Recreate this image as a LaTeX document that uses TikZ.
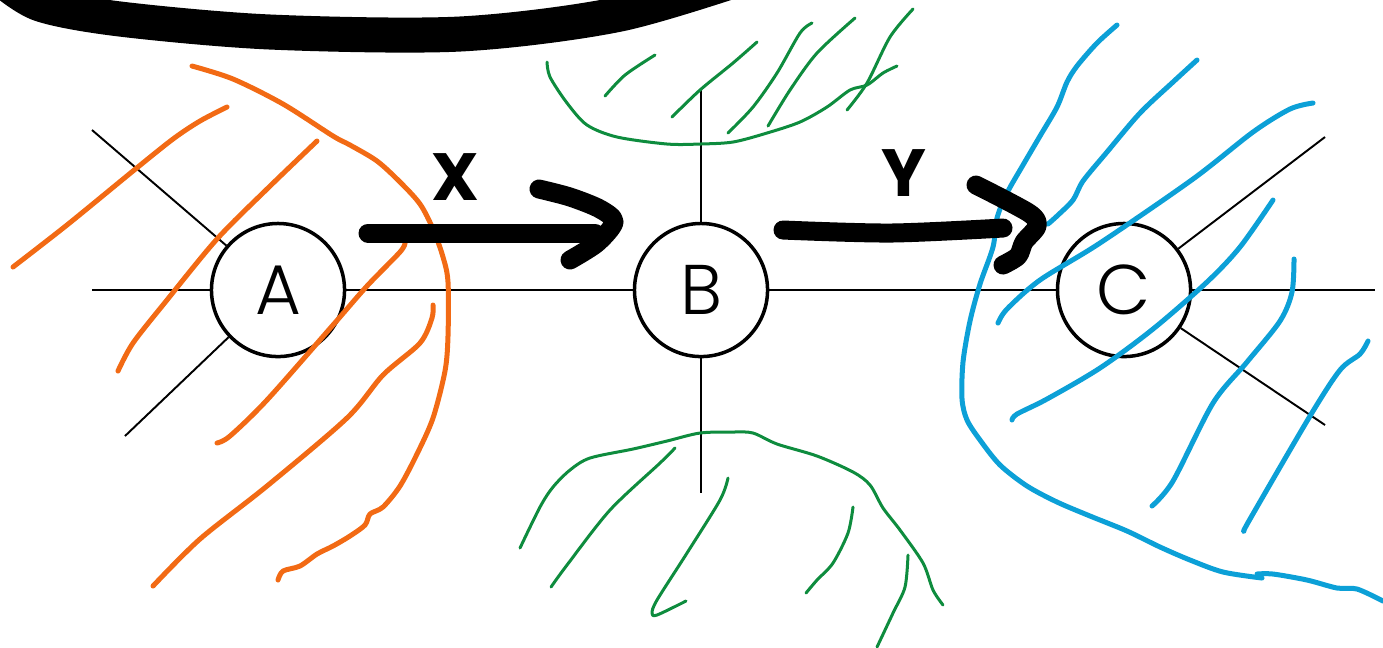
\documentclass[tikz,border=0pt]{standalone}
\usepackage{fontspec}
\setmainfont{Poppins}
\newfontfamily\statefont{Poppins Light}
\usepackage{tikz}
\usetikzlibrary{positioning, arrows.meta}

\definecolor{penorange}{RGB}{242,106,20}
\definecolor{pengreen}{RGB}{14,140,62}
\definecolor{penblue}{RGB}{12,160,215}

\tikzset{
    vertex/.style={circle, draw, fill=white, line width=0.035cm, minimum size=1.33cm, inner sep=0pt, font=\statefont\fontsize{20}{20}\selectfont},
    guide/.style={line width=0.55pt},
    marker/.style={line width=0.19cm, line cap=round, line join=round},
    orangepen/.style={penorange, line width=0.05cm, line cap=round, line join=round},
    greenpen/.style={pengreen, line width=0.03cm, line cap=round, line join=round},
    bluepen/.style={penblue, line width=0.05cm, line cap=round, line join=round},
    tag/.style={font=\bfseries\fontsize{19}{19}\selectfont}
}

\begin{document}
\begin{tikzpicture}[x=0.01cm, y=-0.01cm]
    \useasboundingbox (0,0) rectangle (1383,647);
    \clip (0,0) rectangle (1383,647);

    % thick stroke along the top
    \draw[line width=0.35cm, line cap=round] plot[smooth] coordinates {(0,-22) (40,4) (120,19) (270,32) (460,34) (620,14) (760,-28)};

    % the three states and their axes
    \foreach \n/\x in {A/278,B/701,C/1124} {
        \node[vertex] (\n) at (\x,290) {\n};
    }
    \coordinate (left) at (92,290);
    \coordinate (right) at (1375,290);
    \coordinate (aul) at (92,130);
    \coordinate (all) at (125,436);
    \coordinate (bup) at (701,88);
    \coordinate (bdn) at (701,493);
    \coordinate (cur) at (1325,137);
    \coordinate (clr) at (1325,425);
    \draw[guide] (left) -- (A) -- (B) -- (C) -- (right);
    \draw[guide] (A) -- (aul);
    \draw[guide] (A) -- (all);
    \draw[guide] (B) -- (bup);
    \draw[guide] (B) -- (bdn);
    \draw[guide] (C) -- (cur);
    \draw[guide] (C) -- (clr);

    % orange region round A
    \draw[orangepen] plot[smooth] coordinates {(192,66) (233,79) (283,104) (333,136) (350,145) (377,161) (400,182) (420,204) (433,229) (443,257) (448,282) (448,336) (445,371) (433,418) (417,454) (400,486) (383,507) (370,514) (365,525) (350,536) (333,546) (317,554) (300,566) (283,571) (278,580)};
    \draw[orangepen] plot[smooth] coordinates {(13,267) (67,225) (133,171) (173,139) (200,121) (227,107)};
    \draw[orangepen] plot[smooth] coordinates {(118,371) (133,343) (167,300) (217,239) (267,189) (317,141)};
    \draw[orangepen] plot[smooth] coordinates {(217,443) (230,436) (267,400) (333,325) (367,286) (400,252) (405,243)};
    \draw[orangepen] plot[smooth] coordinates {(153,586) (200,539) (267,486) (347,418) (383,375) (420,343) (432,318) (433,305)};

    % green regions above and below B
    \draw[greenpen] plot[smooth] coordinates {(547,62) (550,77) (567,103) (587,125) (617,137) (667,144) (700,144) (733,142) (767,133) (800,122) (827,107) (850,90) (867,85) (883,73) (897,66)};
    \draw[greenpen] plot[smooth] coordinates {(605,96) (625,75) (655,55)};
    \draw[greenpen] plot[smooth] coordinates {(672,117) (700,90) (733,63) (757,42)};
    \draw[greenpen] plot[smooth] coordinates {(728,133) (753,107) (777,73) (800,33) (812,23)};
    \draw[greenpen] plot[smooth] coordinates {(768,126) (790,90) (817,53) (855,18)};
    \draw[greenpen] plot[smooth] coordinates {(847,110) (867,83) (890,37) (913,9)};
    \draw[greenpen] plot[smooth] coordinates {(520,548) (540,507) (553,487) (570,470) (590,458) (633,449) (667,441) (700,433) (733,432) (753,433) (777,444) (817,456) (853,472) (870,485) (883,508) (900,530) (923,563) (933,590) (943,605)};
    \draw[greenpen] plot[smooth] coordinates {(551,587) (567,565) (610,510) (660,463) (675,448)};
    \draw[greenpen] plot[smooth] coordinates {(728,478) (720,500) (687,553) (657,600) (652,613) (657,615) (686,601)};
    \draw[greenpen] plot[smooth] coordinates {(853,507) (848,533) (833,563) (817,580) (806,593)};
    \draw[greenpen] plot[smooth] coordinates {(908,555) (905,587) (893,613) (877,647)};

    % blue region round C
    \draw[bluepen] plot[smooth] coordinates {(1117,25) (1097,43) (1077,66) (1067,82) (1057,107) (1040,136) (1023,165) (1007,193) (997,218) (993,247) (980,284) (970,321) (963,362) (962,399) (967,420) (980,440) (1000,465) (1027,486) (1057,502) (1090,516) (1127,531) (1160,547) (1190,560) (1223,572) (1262,578)};
    \draw[bluepen] plot[smooth] coordinates {(1257,574) (1273,574) (1307,580) (1337,588) (1357,589) (1383,601)};
    \draw[bluepen] plot[smooth] coordinates {(1048,224) (1057,216) (1073,200) (1083,181) (1107,152) (1140,113) (1173,82) (1197,60)};
    \draw[bluepen] plot[smooth] coordinates {(998,323) (1007,309) (1040,280) (1100,243) (1193,179) (1253,132) (1290,109) (1313,103)};
    \draw[bluepen] plot[smooth] coordinates {(1012,420) (1017,414) (1047,399) (1100,368) (1153,329) (1207,282) (1240,247) (1273,200)};
    \draw[bluepen] plot[smooth] coordinates {(1152,506) (1173,481) (1213,403) (1247,362) (1280,321) (1292,292) (1294,259)};
    \draw[bluepen] plot[smooth] coordinates {(1244,531) (1250,519) (1310,416) (1340,370) (1360,354) (1368,341)};

    % hand drawn transitions
    \coordinate (xs) at (368,233);
    \coordinate (xe) at (595,233);
    \coordinate (ys) at (783,230);
    \coordinate (ye) at (1003,228);
    \draw[marker] (xs) -- (xe);
    \draw[marker] plot[smooth] coordinates {(539,189) (570,197) (600,209) (614,222) (597,243) (570,260)};
    \draw[marker] plot[smooth] coordinates {(ys) (891,233) (ye)};
    \draw[marker] plot[smooth] coordinates {(976,185) (1029,213) (1037,226) (1024,242) (1018,256) (1003,265)};
    \node[tag] (x) at (455,177) {X};
    \node[tag] (y) at (904,173) {Y};
\end{tikzpicture}
\end{document}
